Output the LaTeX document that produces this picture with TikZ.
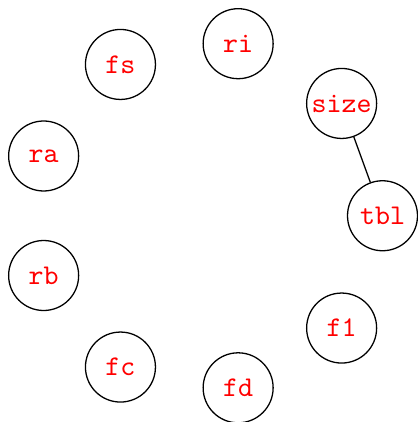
\documentclass[tikz,border=0pt]{standalone}
\begin{document}
\begin{tikzpicture}[x=0.35pt,y=-0.35pt,
  vertex/.style={circle,draw=black,line width=0.45pt,minimum size=24.5pt,inner sep=0pt,
    font=\ttfamily,text=red}]
\useasboundingbox (0,0) rectangle (417,422);
% nine vertices evenly spaced on a circle
\def\cx{207.8}\def\cy{215.75}\def\rr{174.7}
\foreach \name/\ang in {tbl/0,size/40,ri/80,fs/120,ra/160,rb/200,fc/240,fd/280,f1/320}{
  \node[vertex] (\name) at ({\cx+\rr*cos(\ang)},{\cy-\rr*sin(\ang)}) {\name};
}
\draw[line width=0.45pt] (size) -- (tbl);
\end{tikzpicture}
\end{document}
